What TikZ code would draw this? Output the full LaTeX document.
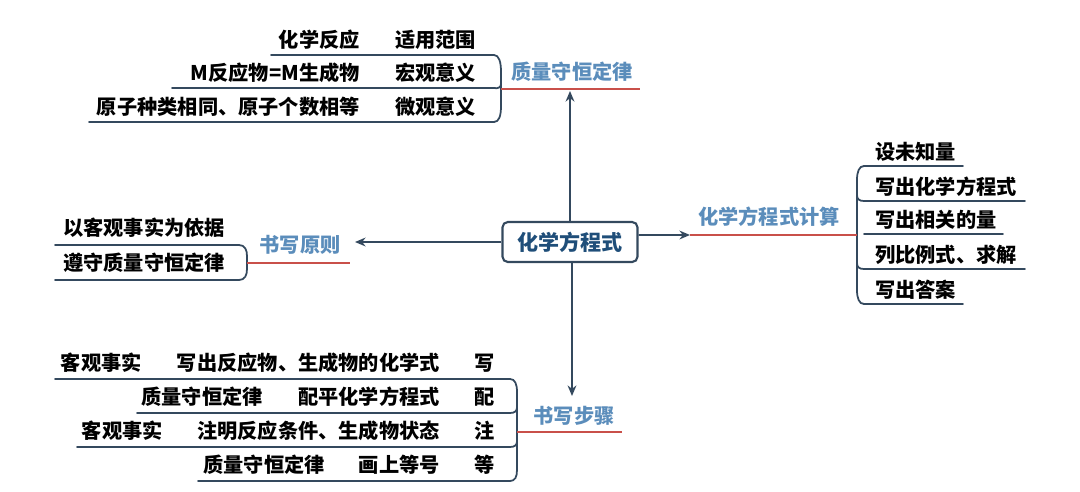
\documentclass[tikz,border=0pt]{standalone}
\usepackage{fontspec}
\setmainfont{Noto Sans CJK SC}
\usetikzlibrary{arrows.meta,calc}
\definecolor{linegray}{HTML}{34495E}
\definecolor{labelblue}{HTML}{5B8DBB}
\definecolor{titleblue}{HTML}{1F4E79}
\definecolor{underred}{HTML}{C9504A}

\begin{document}
\begin{tikzpicture}
		[x=0.02cm,y=-0.02cm]
			\tikzstyle{every node}=[inner sep=0pt, text=black,
		font=\fontsize{11.5}{13}\selectfont\bfseries]
			\tikzstyle{branch}=[draw=linegray, line width=1pt, line cap=round]
			\tikzstyle{underline}=[draw=underred, line width=0.9pt]
			\tikzstyle{topic}=[text=labelblue, font=\fontsize{11.5}{13}\selectfont\bfseries]
			\tikzstyle{pointer}=[draw=linegray, line width=1pt, -{Stealth[length=6pt,width=5pt]}]
		\useasboundingbox (0,0) rectangle (1080,491);
		%-----centre
		 \node[draw=linegray, line width=1.2pt, rounded corners=3pt, text=titleblue,
		  font=\fontsize{12}{14}\selectfont\bfseries,
		  minimum width=2.7cm, minimum height=0.8cm] (hub) at (570,242) {化学方程式};
		%-----top: 质量守恒定律
		 \foreach \n/\y/\txt/\mean/\lx in {1/40/化学反应/适用范围/271,
		  2/73/M反应物=M生成物/宏观意义/172, 3/107/原子种类相同、原子个数相等/微观意义/89}{
		 \node[anchor=east] (qa\n) at (360,\y) {\txt};
		 \node[anchor=west] (qb\n) at (395,\y) {\mean};
		 \coordinate (qs\n) at (\lx,\y+15);
		 \coordinate (qe\n) at (494,\y+15);
		 \draw[branch] (qs\n) -- (qe\n);
		 }
		 \draw[branch] (qe1) .. controls (499,55) and (501,62) .. (501,72) -- (501,106)
		  .. controls (501,116) and (499,122) .. (qe3);
		 \draw[branch] (qe2) .. controls (498,89) and (501,87) .. (501,84);
		 \node[topic] (law) at (572,72) {质量守恒定律};
		 \coordinate (lawl) at (501,89);
		 \coordinate (lawr) at (640,89);
		 \draw[underline] (lawl) -- (lawr);
		 \coordinate (lawtip) at (570,91);
		 \draw[pointer] (hub.north) -- (lawtip);
		%-----left: 书写原则
		 \foreach \n/\y/\txt in {1/228/以客观事实为依据, 2/263/遵守质量守恒定律}{
		 \node[anchor=west] (pa\n) at (63,\y) {\txt};
		 \coordinate (ps\n) at (55,\y+17);
		 \coordinate (pe\n) at (239,\y+17);
		 \draw[branch] (ps\n) -- (pe\n);
		 }
		 \draw[branch] (pe1) .. controls (245,245) and (247,250) .. (247,256) -- (247,269)
		  .. controls (247,275) and (245,280) .. (pe2);
		 \node[topic] (rule) at (300,245) {书写原则};
		 \coordinate (rulel) at (247,263);
		 \coordinate (ruler) at (350,263);
		 \draw[underline] (rulel) -- (ruler);
		 \coordinate (ruletip) at (355,242);
		 \draw[pointer] (hub.west) -- (ruletip);
		%-----right: 化学方程式计算
		 \foreach \n/\y/\txt/\rx in {1/152/设未知量/963, 2/187/写出化学方程式/1025,
		  3/220/写出相关的量/1003, 4/255/列比例式、求解/1025, 5/290/写出答案/963}{
		 \node[anchor=west] (ca\n) at (875,\y) {\txt};
		 \coordinate (cs\n) at (864,\y+14);
		 \coordinate (ce\n) at (\rx,\y+14);
		 \draw[branch] (cs\n) -- (ce\n);
		 }
		 \draw[branch] (cs1) .. controls (859,166) and (857,172) .. (857,180) -- (857,290)
		  .. controls (857,298) and (859,304) .. (cs5);
		 \foreach \n in {2,4}
		 \draw[branch] (cs\n) .. controls ($(cs\n)+(-5,0)$) and ($(cs\n)+(-7,-2)$) .. ($(cs\n)+(-7,-6)$);
		 \node[topic] (calc) at (769,217) {化学方程式计算};
		 \coordinate (calcl) at (690,235);
		 \coordinate (calcr) at (857,235);
		 \draw[underline] (calcl) -- (calcr);
		 \draw[pointer] ([yshift=0.14cm]hub.east) -- (calcl);
		%-----bottom: 书写步骤
		 \foreach \n/\y/\why/\wx/\what/\key/\lx in {1/363/客观事实/142/写出反应物、生成物的化学式/写/55,
		  2/397/质量守恒定律/263/配平化学方程式/配/137, 3/431/客观事实/163/注明反应条件、生成物状态/注/77,
		  4/465/质量守恒定律/325/画上等号/等/198}{
		 \node[anchor=east] (sa\n) at (\wx,\y) {\why};
		 \node[anchor=east] (sb\n) at (440,\y) {\what};
		 \node (sc\n) at (485,\y) {\key};
		 \coordinate (ss\n) at (\lx,\y+16);
		 \coordinate (se\n) at (510,\y+16);
		 \draw[branch] (ss\n) -- (se\n);
		 }
		 \draw[branch] (se1) .. controls (515,379) and (517,384) .. (517,392) -- (517,470)
		  .. controls (517,477) and (515,481) .. (se4);
		 \foreach \n in {2,3}
		 \draw[branch] (se\n) .. controls ($(se\n)+(5,0)$) and ($(se\n)+(7,-2)$) .. ($(se\n)+(7,-6)$);
		 \node[topic] (steps) at (574,416) {书写步骤};
		 \coordinate (stepsl) at (517,432);
		 \coordinate (stepsr) at (622,432);
		 \draw[underline] (stepsl) -- (stepsr);
		 \coordinate (stepstip) at (572,396);
		 \draw[pointer] (hub.south -| stepstip) -- (stepstip);
\end{tikzpicture}
\end{document}
